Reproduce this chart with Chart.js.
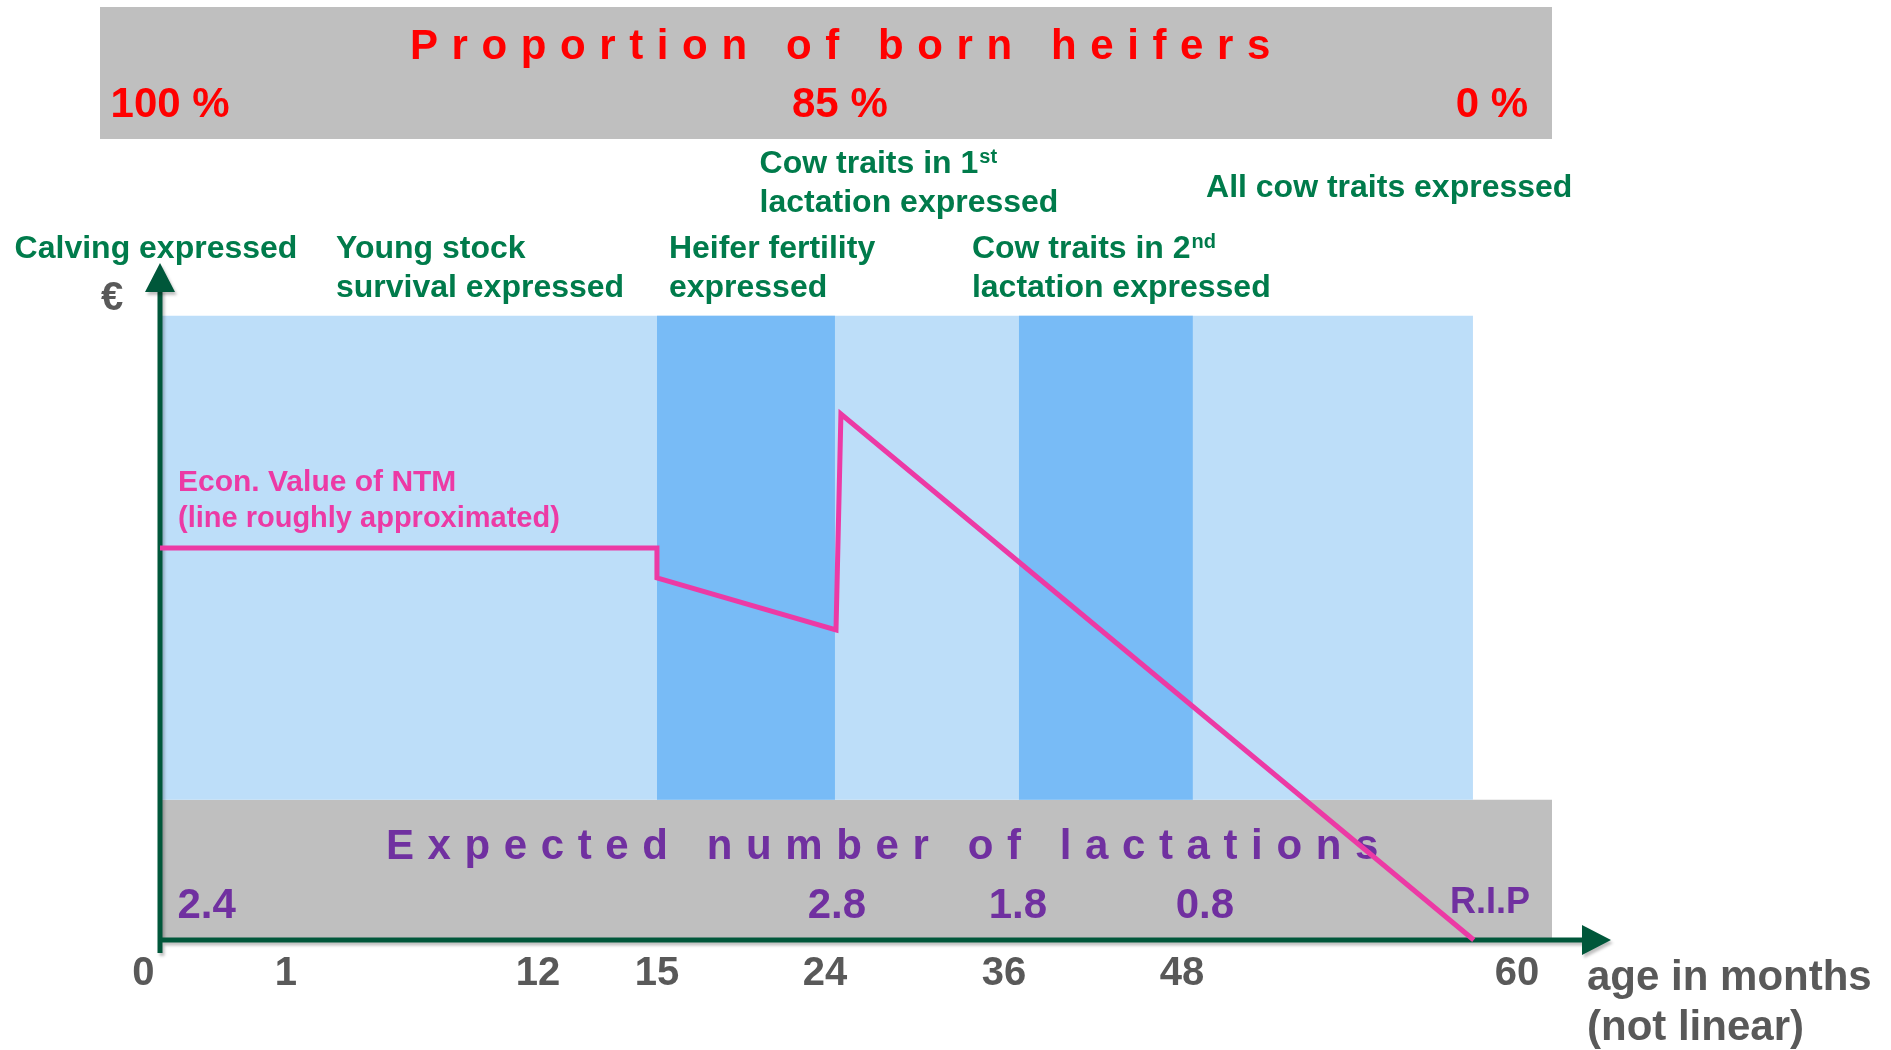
<!DOCTYPE html>
<html>
<head>
<meta charset="utf-8">
<title>Economic value of NTM over the life of a cow</title>
<script src="https://cdn.jsdelivr.net/npm/chart.js@4.4.1/dist/chart.umd.min.js"></script>
<style>
  html, body { margin: 0; padding: 0; background: #fff; }
  #wrap { width: 1891px; height: 1050px; position: relative; }
</style>
</head>
<body>
<div id="wrap"><canvas id="ntmChart"></canvas></div>
<script>
// age in months shown on the x axis (axis is not linear)
const ageTicks = [0, 1, 12, 15, 24, 36, 48, 60];

// econ. value of NTM (line roughly approximated, arbitrary € units)
const ntmAge = [0, 15, 15, 24.74, 25.07, 58.45];
const ntmValue = [57.9, 57.9, 53.5, 45.8, 77.7, 0];

// stage background (ages in months, € units)
const stageTop = 92.2;
const stageEnd = 58.42;
const lactBandTop = 20.7;
const highlightFrom = [15, 37.0];
const highlightTo = [24.67, 48.39];

// proportion of born heifers
const heiferLabels = ["100 %", "85 %", "0 %"];
const heiferAges = [0.08, 25.0, 59.1];

// expected number of lactations
const lactLabels = ["2.4", "2.8", "1.8", "0.8", "R.I.P"];
const lactAges = [0.37, 24.8, 36.94, 48.82, 59.03];

// traits expressed, anchored at age
const traitText = [
  ["Calving expressed"],
  ["Young stock", "survival expressed"],
  ["Heifer fertility", "expressed"],
  ["Cow traits in 1", "lactation expressed"],
  ["Cow traits in 2", "lactation expressed"],
  ["All cow traits expressed"],
];
const traitSup = ["", "", "", "st", "nd", ""];
const traitAges = [0, 3.18, 15.64, 20.5, 33.85, 48.86];

// colours
const GRAY = "#bfbfbf";
const LIGHT = "#bddef9";
const DARK = "#78bbf6";
const PINK = "#ec3aa5";
const GREEN = "#007b4b";
const PURPLE = "#7030a0";
const RED = "#ff0000";
const AXIS = "#00573a";
const TEXT_GRAY = "#595959";
const FAMILY = '"Liberation Sans", Arial, sans-serif';
const font = (size) => `bold ${size}px ${FAMILY}`;

// linear scale with piecewise mapping (the age axis is not linear)
class PiecewiseScale extends Chart.LinearScale {
  _toDecimal(v) {
    const k = this.options.knots;
    if (v <= k[0][0]) return k[0][1] + (v - k[0][0]) * (k[1][1] - k[0][1]) / (k[1][0] - k[0][0]);
    for (let i = 1; i < k.length; i++) {
      if (v <= k[i][0] || i === k.length - 1) {
        const [v0, f0] = k[i - 1], [v1, f1] = k[i];
        return f0 + (v - v0) * (f1 - f0) / (v1 - v0);
      }
    }
  }
  getPixelForValue(value) {
    return this.getPixelForDecimal(this._toDecimal(value));
  }
  getValueForPixel(pixel) {
    const d = this.getDecimalForPixel(pixel);
    const k = this.options.knots;
    for (let i = 1; i < k.length; i++) {
      if (d <= k[i][1] || i === k.length - 1) {
        const [v0, f0] = k[i - 1], [v1, f1] = k[i];
        return v0 + (d - f0) * (v1 - v0) / (f1 - f0);
      }
    }
  }
}
PiecewiseScale.id = "piecewise";
PiecewiseScale.defaults = Chart.LinearScale.defaults;
Chart.register(PiecewiseScale);

function spacedText(ctx, text, x, y, spacing) {
  ctx.save();
  ctx.letterSpacing = spacing + "px";
  ctx.textAlign = "left";
  ctx.fillText(text, x, y);
  ctx.restore();
}

function drawAxes(ctx, a) {
  ctx.save();
  ctx.strokeStyle = AXIS;
  ctx.fillStyle = AXIS;
  ctx.lineWidth = 5;
  ctx.shadowColor = "rgba(0,0,0,0.25)";
  ctx.shadowOffsetX = 2;
  ctx.shadowOffsetY = 3;
  ctx.shadowBlur = 3;
  ctx.beginPath();
  ctx.moveTo(a.left, a.bottom + 13);
  ctx.lineTo(a.left, a.top + 26);
  ctx.moveTo(a.left - 2, a.bottom);
  ctx.lineTo(a.right + 32, a.bottom);
  ctx.stroke();
  ctx.beginPath();
  ctx.moveTo(a.left, a.top);
  ctx.lineTo(a.left - 15, a.top + 29);
  ctx.lineTo(a.left + 15, a.top + 29);
  ctx.closePath();
  ctx.moveTo(a.right + 59, a.bottom);
  ctx.lineTo(a.right + 30, a.bottom - 15);
  ctx.lineTo(a.right + 30, a.bottom + 15);
  ctx.closePath();
  ctx.fill();
  ctx.restore();
}

const decorations = {
  id: "decorations",
  beforeDraw(chart) {
    const { ctx, chartArea: a, scales: { x } } = chart;
    ctx.save();
    // proportion of born heifers header
    ctx.fillStyle = GRAY;
    ctx.fillRect(a.left - 60, 7, a.right - a.left + 60, 132);
    ctx.fillStyle = RED;
    ctx.font = font(42);
    ctx.textBaseline = "alphabetic";
    spacedText(ctx, "Proportion of born heifers", 410, 59, 13.6);
    ctx.textAlign = "center";
    heiferLabels.forEach((t, i) => ctx.fillText(t, x.getPixelForValue(heiferAges[i]), 117));
    ctx.restore();
  },
  beforeDatasetDraw(chart, args) {
    if (args.index !== 0) return;
    const { ctx, chartArea: a, scales: { x } } = chart;
    ctx.save();
    ctx.fillStyle = PURPLE;
    ctx.font = font(42);
    spacedText(ctx, "Expected number of lactations", 386, 859, 13.6);
    ctx.textAlign = "center";
    lactLabels.forEach((t, i) => {
      ctx.font = font(t === "R.I.P" ? 36 : 42);
      ctx.fillText(t, x.getPixelForValue(lactAges[i]), t === "R.I.P" ? 913 : 918);
    });
    ctx.restore();
    drawAxes(ctx, a);
  },
  afterDraw(chart) {
    const { ctx, chartArea: a, scales: { x } } = chart;
    const traitBaselines = [258, 258, 258, 173, 258, 197];
    ctx.save();
    ctx.fillStyle = GREEN;
    traitText.forEach((lines, i) => {
      ctx.font = font(32);
      let left = x.getPixelForValue(traitAges[i]);
      if (traitAges[i] === 0) left -= ctx.measureText(lines[0]).width / 2 + 4;
      lines.forEach((line, j) => {
        const y = traitBaselines[i] + j * 39;
        ctx.font = font(32);
        ctx.textAlign = "left";
        ctx.fillText(line, left, y);
        if (j === 0 && traitSup[i]) {
          const w = ctx.measureText(line).width;
          ctx.font = font(20);
          ctx.fillText(traitSup[i], left + w + 1, y - 10);
        }
      });
    });
    // y axis unit
    ctx.fillStyle = TEXT_GRAY;
    ctx.font = font(40);
    ctx.textAlign = "center";
    ctx.fillText("€", a.left - 48, 310);
    // x axis title
    ctx.font = font(42);
    ctx.textAlign = "left";
    ctx.fillText("age in months", a.right + 35, 990);
    ctx.fillText("(not linear)", a.right + 35, 1040);
    // line label
    ctx.fillStyle = PINK;
    ctx.font = font(30);
    ctx.fillText("Econ. Value of NTM", a.left + 18, 491);
    ctx.font = font(29);
    ctx.fillText("(line roughly approximated)", a.left + 18, 527);
    ctx.restore();
  },
};

const band = (from, to, y, base, color, order) => ({
  data: [{ x: from, y: y }, { x: to, y: y }],
  fill: { value: base },
  backgroundColor: color,
  borderColor: "rgba(0,0,0,0)",
  borderWidth: 0,
  pointRadius: 0,
  order: order,
});

const datasets = [
  {
    label: "Econ. Value of NTM",
    data: ntmAge.map((a, i) => ({ x: a, y: ntmValue[i] })),
    borderColor: PINK,
    borderWidth: 5,
    borderJoinStyle: "miter",
    borderCapStyle: "butt",
    pointRadius: 0,
    tension: 0,
    fill: false,
    clip: false,
    order: 0,
  },
  band(0, ageTicks[ageTicks.length - 1] + 1.3, lactBandTop, 0, GRAY, 3),
  band(0, stageEnd, stageTop, lactBandTop, LIGHT, 2),
];
highlightFrom.forEach((f, i) => datasets.push(band(f, highlightTo[i], stageTop, lactBandTop, DARK, 1)));

new Chart(document.getElementById("ntmChart"), {
  type: "line",
  data: { datasets: datasets },
  options: {
    responsive: true,
    maintainAspectRatio: false,
    animation: false,
    events: [],
    layout: { padding: { left: 160, right: 339, top: 263, bottom: 42 } },
    scales: {
      x: {
        type: "piecewise",
        min: 0,
        max: 61.3,
        knots: [[0, 0], [1, 0.0905], [12, 0.2716], [15, 0.357], [24, 0.4777], [36, 0.6063], [48, 0.7342], [60, 0.9749], [61.3, 1]],
        afterBuildTicks: (s) => { s.ticks = ageTicks.map((v) => ({ value: v })); },
        grid: { display: false, drawTicks: false },
        border: { display: false },
        ticks: {
          autoSkip: false,
          maxRotation: 0,
          padding: 10,
          color: TEXT_GRAY,
          font: { family: FAMILY, size: 40, weight: "bold", lineHeight: 1.2 },
          callback: (v) => (v === 0 ? "0   " : String(v)),
        },
      },
      y: { display: false, min: 0, max: 100 },
    },
    plugins: {
      legend: { display: false },
      tooltip: { enabled: false },
    },
  },
  plugins: [decorations],
});
</script>
</body>
</html>
